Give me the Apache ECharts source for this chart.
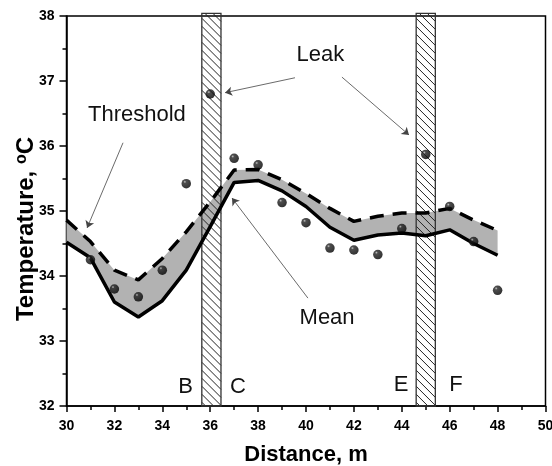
<!DOCTYPE html>
<html>
<head>
<meta charset="utf-8">
<script src="https://cdn.jsdelivr.net/npm/echarts@6/dist/echarts.min.js"></script>
<style>
  html, body { margin: 0; padding: 0; background: #fff; }
  #chart { width: 552px; height: 466px; }
</style>
</head>
<body>
<div id="chart"></div>
<script>
// distance along the pipe, m
const dist = [30, 31, 32, 33, 34, 35, 36, 37, 38, 39, 40, 41, 42, 43, 44, 45, 46, 47, 48];
// mean temperature (solid line)
const meanT = [34.52, 34.28, 33.60, 33.37, 33.62, 34.09, 34.76, 35.44, 35.47, 35.31, 35.07, 34.75, 34.55, 34.63, 34.66, 34.62, 34.71, 34.50, 34.32];
// threshold (dashed line)
const thresholdT = [34.86, 34.53, 34.09, 33.94, 34.27, 34.68, 35.14, 35.63, 35.64, 35.48, 35.27, 35.04, 34.84, 34.92, 34.97, 34.97, 35.04, 34.86, 34.70];
// measured points
const measX = [31, 32, 33, 34, 35, 36, 37, 38, 39, 40, 41, 42, 43, 44, 45, 46, 47, 48];
const measT = [34.25, 33.80, 33.68, 34.09, 35.42, 36.80, 35.81, 35.71, 35.13, 34.82, 34.43, 34.40, 34.33, 34.73, 35.87, 35.07, 34.53, 33.78];
// leak zones (hatched)
const leakStart = [35.65, 44.6];
const leakEnd = [36.45, 45.4];

const FONT = "'Liberation Sans', Arial, sans-serif";

const chart = echarts.init(document.getElementById("chart"));

// grey band between mean and threshold
function bandItem(params, api) {
  const pts = [];
  for (let i = 0; i < dist.length; i++) pts.push(api.coord([dist[i], meanT[i]]));
  for (let i = dist.length - 1; i >= 0; i--) pts.push(api.coord([dist[i], thresholdT[i]]));
  return { type: "polygon", shape: { points: pts }, style: { fill: "#b2b2b2" } };
}

// hatched leak zone
function hatchItem(params, api) {
  const tl = api.coord([api.value(0), 38.04]);
  const br = api.coord([api.value(1), 32]);
  const w = br[0] - tl[0];
  const h = br[1] - tl[1];
  const children = [];
  const step = 8;
  for (let c = -w; c < h; c += step) {
    const u1 = Math.max(0, -c);
    const u2 = Math.min(w, h - c);
    if (u2 <= u1) continue;
    children.push({
      type: "line",
      shape: { x1: tl[0] + u1, y1: tl[1] + u1 + c, x2: tl[0] + u2, y2: tl[1] + u2 + c },
      style: { stroke: "#222", lineWidth: 1 },
    });
  }
  children.push({
    type: "rect",
    shape: { x: tl[0], y: tl[1], width: w, height: h },
    style: { fill: "none", stroke: "#333", lineWidth: 1.3 },
  });
  return { type: "group", children: children };
}

const noteLabel = {
  show: true,
  position: "inside",
  formatter: "{b}",
  fontFamily: FONT,
  fontSize: 22,
  color: "#111",
};

const option = {
  animation: false,
  backgroundColor: "#fff",
  grid: {
    left: 66.5,
    right: 6.5,
    top: 16,
    bottom: 60,
    outerBoundsMode: "none",
    show: true,
    borderColor: "#000",
    borderWidth: 1.5,
  },
  xAxis: {
    type: "value",
    min: 30,
    max: 50,
    interval: 2,
    name: "Distance, m",
    nameLocation: "middle",
    nameGap: 38,
    nameTextStyle: { fontFamily: FONT, fontSize: 22, fontWeight: "bold", color: "#000" },
    axisLine: { lineStyle: { color: "#000", width: 1.5 } },
    axisTick: { length: 6, lineStyle: { color: "#000", width: 1.5 } },
    minorTick: { show: true, splitNumber: 2, length: 4, lineStyle: { color: "#000", width: 1.5 } },
    splitLine: { show: false },
    axisLabel: { margin: 13, fontFamily: FONT, fontSize: 14, fontWeight: "bold", color: "#000" },
  },
  yAxis: {
    type: "value",
    min: 32,
    max: 38,
    interval: 1,
    name: "Temperature, {sup|o}C",
    nameLocation: "middle",
    nameRotate: 90,
    nameGap: 27,
    nameMoveOverlap: false,
    nameTextStyle: {
      fontFamily: FONT,
      fontSize: 24,
      fontWeight: "bold",
      color: "#000",
      padding: [0, 36, 0, 0],
      rich: {
        sup: { fontFamily: FONT, fontSize: 16, fontWeight: "bold", color: "#000", verticalAlign: "top", padding: [0, 0, 10, 0] },
      },
    },
    axisLine: { lineStyle: { color: "#000", width: 1.5 } },
    axisTick: { length: 7, lineStyle: { color: "#000", width: 1.5 } },
    minorTick: { show: true, splitNumber: 2, length: 4, lineStyle: { color: "#000", width: 1.5 } },
    splitLine: { show: false },
    axisLabel: { margin: 12, fontFamily: FONT, fontSize: 14, fontWeight: "bold", color: "#000" },
  },
  series: [
    {
      type: "custom",
      name: "band",
      renderItem: bandItem,
      data: [[dist[0], meanT[0]]],
      silent: true,
      z: 1,
    },
    {
      type: "custom",
      name: "leak",
      renderItem: hatchItem,
      data: leakStart.map((s, i) => [s, leakEnd[i]]),
      encode: { x: [0, 1] },
      clip: false,
      silent: true,
      z: 2,
    },
    {
      type: "line",
      name: "Mean",
      data: dist.map((d, i) => [d, meanT[i]]),
      symbol: "none",
      lineStyle: { color: "#000", width: 3.5 },
      z: 3,
    },
    {
      type: "line",
      name: "Threshold",
      data: dist.map((d, i) => [d, thresholdT[i]]),
      symbol: "none",
      lineStyle: { color: "#000", width: 3.5, type: [14, 9] },
      z: 3,
    },
    {
      type: "scatter",
      name: "Measured",
      data: measX.map((d, i) => [d, measT[i]]),
      symbol: "circle",
      symbolSize: 9.5,
      itemStyle: {
        color: new echarts.graphic.RadialGradient(0.35, 0.3, 0.7, [
          { offset: 0, color: "#b8b8b8" },
          { offset: 0.22, color: "#222" },
          { offset: 1, color: "#000" },
        ]),
      },
      z: 4,
      markPoint: {
        symbol: "circle",
        symbolSize: 0,
        silent: true,
        label: noteLabel,
        data: [
          { name: "Threshold", coord: [32.94, 36.48] },
          { name: "Leak", coord: [40.6, 37.4] },
          { name: "Mean", coord: [40.88, 33.35] },
          { name: "B", coord: [34.97, 32.3] },
          { name: "C", coord: [37.16, 32.3] },
          { name: "E", coord: [43.97, 32.33] },
          { name: "F", coord: [46.26, 32.33] },
        ],
      },
      markLine: {
        silent: true,
        symbol: ["none", "arrow"],
        symbolSize: 7,
        label: { show: false },
        lineStyle: { color: "#444", width: 0.8, type: "solid" },
        data: [
          [{ coord: [32.36, 36.05] }, { coord: [30.86, 34.74] }],
          [{ coord: [39.54, 37.05] }, { coord: [36.62, 36.82] }],
          [{ coord: [41.5, 37.06] }, { coord: [44.3, 36.17] }],
          [{ coord: [40.08, 33.66] }, { coord: [36.91, 35.2] }],
        ],
      },
    },
  ],
};

chart.setOption(option);
</script>
</body>
</html>
